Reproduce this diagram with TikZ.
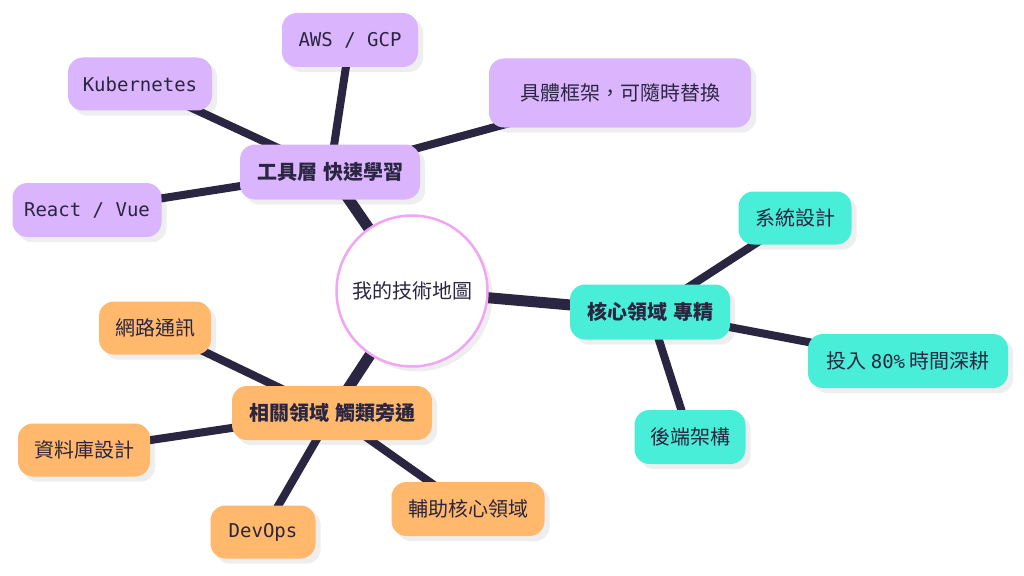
\documentclass[tikz,border=0pt]{standalone}
\usepackage{fontspec}
\setmainfont{Noto Sans CJK TC}
\newfontfamily\monofam{DejaVu Sans Mono}
\newcommand{\mono}{\monofam\fontsize{19}{22}\selectfont}
\usetikzlibrary{backgrounds}
\definecolor{ink}{HTML}{2A2540}
\definecolor{purp}{HTML}{DAB4FC}
\definecolor{teal}{HTML}{48EED8}
\definecolor{oran}{HTML}{FFB86C}
\definecolor{pinkb}{HTML}{F0A6F5}
\definecolor{shad}{HTML}{EEEEEE}
\pgfdeclarelayer{edges}
\pgfsetlayers{background,edges,main}
\tikzset{
  box/.style={rounded corners=15pt, inner sep=0pt, text=ink, font=\fontsize{20}{23}\selectfont, align=center},
  pbox/.style={box, fill=purp},
  tbox/.style={box, fill=teal},
  obox/.style={box, fill=oran},
  hub/.style={font=\fontsize{20}{23}\selectfont\bfseries},
  thick edge/.style={draw=ink, line width=11pt},
  thin edge/.style={draw=ink, line width=8pt},
}
\begin{document}
\begin{tikzpicture}[x=1pt,y=-1pt]
\useasboundingbox (0,0) rectangle (1024,575);
% nodes
\node[circle, minimum size=151pt, inner sep=0pt, fill=white, draw=pinkb, line width=2.5pt, text=ink, font=\fontsize{20}{23}\selectfont] (c) at (412,291) {我的技術地圖};
\node[pbox, hub, minimum width=180pt, minimum height=55pt] (tool) at (330,172) {工具層\hspace{0.3em}快速學習};
\node[pbox, minimum width=136pt, minimum height=54pt] (aws) at (350,40) {\mono AWS / GCP};
\node[pbox, minimum width=144pt, minimum height=53pt] (kube) at (140,84) {\mono Kubernetes};
\node[pbox, minimum width=262pt, minimum height=69pt] (frame) at (620,93) {具體框架，可隨時替換};
\node[pbox, minimum width=149pt, minimum height=54pt] (react) at (87,210) {\mono React / Vue};
\node[tbox, hub, minimum width=160pt, minimum height=55pt] (core) at (650,312) {核心領域\hspace{0.3em}專精};
\node[tbox, minimum width=113pt, minimum height=53pt] (sys) at (795,218) {系統設計};
\node[tbox, minimum width=200pt, minimum height=54pt] (invest) at (908,361) {投入 {\mono 80\%} 時間深耕};
\node[tbox, minimum width=111pt, minimum height=54pt] (backend) at (690,437) {後端架構};
\node[obox, hub, minimum width=200pt, minimum height=54pt] (rel) at (332,413) {相關領域\hspace{0.3em}觸類旁通};
\node[obox, minimum width=112pt, minimum height=53pt] (net) at (155,328) {網路通訊};
\node[obox, minimum width=132pt, minimum height=53pt] (db) at (84,450) {資料庫設計};
\node[obox, minimum width=105pt, minimum height=53pt] (devops) at (263,532) {\mono DevOps};
\node[obox, minimum width=153pt, minimum height=54pt] (aux) at (468,509) {輔助核心領域};
% shadows
\begin{pgfonlayer}{background}
  \fill[shad] ([shift={(5,5)}]c.center) circle[radius=75.5pt];
  \foreach \n in {tool,aws,kube,frame,react,core,sys,invest,backend,rel,net,db,devops,aux}{
    \fill[shad, rounded corners=15pt] ([shift={(5,5)}]\n.south west) rectangle ([shift={(5,5)}]\n.north east);
  }
\end{pgfonlayer}
% edges
\begin{pgfonlayer}{edges}
  \draw[thick edge] (c.center) -- (tool.center);
  \draw[thick edge] (c.center) -- (core.center);
  \draw[thick edge] (c.center) -- (rel.center);
  \draw[thin edge] (tool.center) -- (aws.center);
  \draw[thin edge] (tool.center) -- (kube.center);
  \draw[thin edge] (tool.center) -- (frame.center);
  \draw[thin edge] (tool.center) -- (react.center);
  \draw[thin edge] (core.center) -- (sys.center);
  \draw[thin edge] (core.center) -- (invest.center);
  \draw[thin edge] (core.center) -- (backend.center);
  \draw[thin edge] (rel.center) -- (net.center);
  \draw[thin edge] (rel.center) -- (db.center);
  \draw[thin edge] (rel.center) -- (devops.center);
  \draw[thin edge] (rel.center) -- (aux.center);
\end{pgfonlayer}
\end{tikzpicture}
\end{document}
